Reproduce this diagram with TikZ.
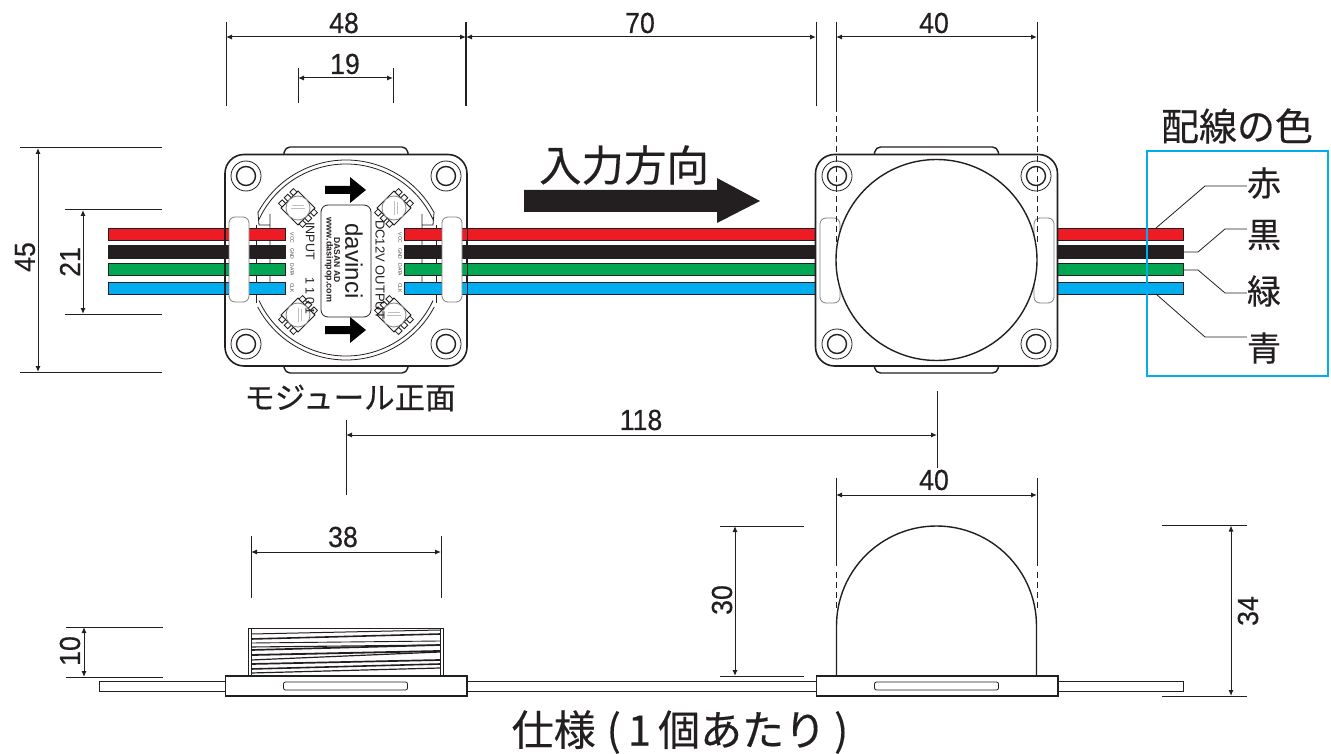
\documentclass[tikz,border=0pt]{standalone}
\usepackage{fontspec}
\setmainfont{Liberation Sans}
\newfontfamily\jpfont[FakeBold=0.35]{Noto Sans CJK JP}
\newfontfamily\dimfont[FakeBold=0.4,FakeStretch=0.92]{Liberation Sans}
\usetikzlibrary{arrows.meta}
\definecolor{wirered}{HTML}{ED1C24}
\definecolor{wireblack}{HTML}{231F20}
\definecolor{wiregreen}{HTML}{00A651}
\definecolor{wireblue}{HTML}{00AEEF}
\tikzset{
  bodyline/.style={draw=wireblack,line width=1.4pt,fill=white},
  thinline/.style={draw=wireblack,line width=0.8pt},
  extline/.style={draw=wireblack,line width=1pt},
  dimline/.style={draw=wireblack,line width=1pt,{Latex[length=6pt,width=5pt]}-{Latex[length=6pt,width=5pt]}},
  dimlabel/.style={font=\dimfont\fontsize{29}{29}\selectfont,text=wireblack,inner sep=0pt},
  jplabel/.style={font=\jpfont\fontsize{#1}{#1}\selectfont,text=wireblack,inner sep=0pt},
  pinlabel/.style={rotate=-90,inner sep=0pt,font=\fontsize{5}{5}\selectfont,text=darkgray},
  ledchip/.pic={
    \draw[thinline,fill=white] (-12,-12) rectangle (12,12);
    \foreach \px in {-8,0,8} {
      \draw[thinline,fill=white] (\px-2.5,-17) rectangle (\px+2.5,-12);
      \draw[thinline,fill=white] (\px-2.5,12) rectangle (\px+2.5,17);
    }
    \draw[draw=gray,line width=0.8pt,fill=white] (0,0) circle[radius=12];
    \draw[draw=lightgray,line width=0.5pt] (-5,-5) -- (5,5) (-2,-6) -- (6,2);
  },
}
\begin{document}
\begin{tikzpicture}[x=1pt,y=-1pt]
  \useasboundingbox (0,0) rectangle (1331,754);
  \def\holeA{246}
  \def\holeB{446}
  \def\holeC{837}
  \def\holeD{1036}
  % wires
  \foreach \ya/\yb/\wcol in {228/240/wirered,245/258/wireblack,263/275/wiregreen,282/294/wireblue}
    \draw[thinline,fill=\wcol] (108,\ya) rectangle (1183,\yb);
  % front modules
  \foreach \mx/\ma/\mb in {346/\holeA/\holeB,936.5/\holeC/\holeD} {
    \draw[bodyline,rounded corners=5pt] (\mx-63,160) -- (\mx-61,147) -- (\mx+61,147) -- (\mx+63,160) -- cycle;
    \draw[bodyline,rounded corners=5pt] (\mx-63,360) -- (\mx-61,373) -- (\mx+61,373) -- (\mx+63,360) -- cycle;
    \draw[bodyline,line width=1.6pt,rounded corners=19pt] (\mx-121,154.5) rectangle (\mx+121,366);
    \foreach \hx in {\ma,\mb}
      \foreach \hy in {176,344} {
        \draw[thinline] (\hx,\hy) circle[radius=15];
        \draw[bodyline] (\hx,\hy) circle[radius=9.5];
      }
  }
  % inner ring of the first module
  \begin{scope}[shift={(346,260)}]
    \draw[thinline] (208:100) arc[start angle=208,end angle=332,radius=100];
    \draw[thinline] (205:96) arc[start angle=205,end angle=335,radius=96];
    \draw[thinline] (152:100) arc[start angle=152,end angle=28,radius=100];
    \draw[thinline] (155:96) arc[start angle=155,end angle=25,radius=96];
  \end{scope}
  \draw[thinline] (258,213) -- (259,225) -- (270,225) -- (270,293) (270,225) -- (270,214);
  \draw[thinline] (434,213) -- (433,225) -- (422,225) -- (422,293) (422,225) -- (422,214);
  \draw[thinline] (256,225) -- (256,303);
  \draw[thinline] (436,225) -- (436,303);
  \foreach \ya/\yb/\wcol in {228/240/wirered,245/258/wireblack,263/275/wiregreen,282/294/wireblue} {
    \draw[thinline,fill=\wcol] (225,\ya) rectangle (285,\yb);
    \draw[thinline,fill=\wcol] (404,\ya) rectangle (467,\yb);
  }
  % slots
  \foreach \sx/\sy in {229/217,442/217,820/218,1034/218}
    \draw[thinline,draw=gray,fill=white,rounded corners=6pt] (\sx,\sy) rectangle (\sx+20,\sy+85);
  % leds and label
  \foreach \lx/\ly/\lr in {298/208/45,394/208/-45,298/315/-45,394/315/45}
    \pic[rotate=\lr] at (\lx,\ly) {ledchip};
  \node[rotate=-90,anchor=west,inner sep=0pt,font=\fontsize{12.5}{12.5}\selectfont,text=wireblack] (inlbl) at (310,222) {INPUT};
  \node[rotate=-90,anchor=west,inner sep=0pt,font=\fontsize{12.5}{12.5}\selectfont,text=wireblack] (numlbl) at (310,277) {1\hspace{3pt}1\hspace{3pt}0\hspace{3pt}1};
  \draw[thinline,rounded corners=7pt,fill=white] (321,205) rectangle (371,317);
  \node[rotate=-90,inner sep=0pt,font=\fontsize{24}{24}\selectfont,text=wireblack] (brand) at (354,261) {davinci};
  \node[rotate=-90,inner sep=0pt,font=\bfseries\fontsize{8.5}{8.5}\selectfont,text=wireblack] (maker) at (337,260) {DASAN AD};
  \node[rotate=-90,inner sep=0pt,font=\bfseries\fontsize{9}{9}\selectfont,text=wireblack] (site) at (329,260) {www.dasinpop.com};
  \node[rotate=-90,anchor=west,inner sep=0pt,font=\fontsize{13}{13}\selectfont,text=wireblack] (outlbl) at (380,220) {DC12V OUTPUT};
  \foreach \cx/\cn in {292/a,400/b} {
    \node[pinlabel] (vcc\cn) at (\cx,238) {VCC};
    \node[pinlabel] (gnd\cn) at (\cx,254) {GND};
    \node[pinlabel] (dat\cn) at (\cx,270) {DATA};
    \node[pinlabel] (clk\cn) at (\cx,288) {CLK};
  }
  \foreach \ay in {190,330}
    \fill[black] (325,\ay-4) -- (350,\ay-4) -- (350,\ay-13) -- (366,\ay) -- (350,\ay+13) -- (350,\ay+4) -- (325,\ay+4) -- cycle;
  % dashed lines and big circle
  \draw[thinline,dashed,dash pattern=on 6pt off 4pt] (836,106) -- (836,243) (1037,106) -- (1037,243);
  \draw[bodyline] (936.5,260) circle[radius=100.5];
  % big arrow
  \fill[wireblack] (524,190) -- (717,190) -- (717,178) -- (760,201) -- (717,223) -- (717,212) -- (524,212) -- cycle;
  \node[jplabel=42.5] (dirlbl) at (624,165) {入力方向};
  % colour box
  \draw[draw=wireblue,line width=2.6pt] (1147,151) rectangle (1328,376);
  \node[jplabel=38] (boxlbl) at (1237,126) {配線の色};
  \node[jplabel=34] (ccr) at (1264,183) {赤};
  \node[jplabel=34] (ccb) at (1264,235) {黒};
  \node[jplabel=34] (ccg) at (1264,291) {緑};
  \node[jplabel=34] (ccl) at (1264,348) {青};
  \coordinate (ldr) at (1156,228);
  \coordinate (ldb) at (1184,252);
  \coordinate (ldg) at (1184,270);
  \coordinate (ldl) at (1156,294);
  \draw[thinline] (ldr) -- (1205,186) -- (ccr.west |- 0,186);
  \draw[thinline] (ldb) -- (1198,252) -- (1225,229) -- (ccb.west |- 0,229);
  \draw[thinline] (ldg) -- (1198,270) -- (1225,293) -- (ccg.west |- 0,293);
  \draw[thinline] (ldl) -- (1205,337) -- (ccl.west |- 0,337);
  \node[jplabel=30.5] (frontlbl) at (350,398) {モジュール正面};
  % top dimensions
  \draw[extline] (226,22) -- (226,106);
  \draw[extline,line width=1.3pt] (466,22) -- (466,106);
  \draw[extline] (816,22) -- (816,106);
  \draw[extline] (836,22) -- (836,106);
  \draw[extline] (1037,22) -- (1037,106);
  \draw[extline] (298,68) -- (298,103);
  \draw[extline] (393,68) -- (393,103);
  \draw[dimline] (226,37) -- (466,37);
  \draw[dimline] (466,37) -- (816,37);
  \draw[dimline] (836,37) -- (1037,37);
  \draw[dimline] (298,78) -- (393,78);
  \node[dimlabel] (da) at (344,23) {48};
  \node[dimlabel] (db) at (640,23) {70};
  \node[dimlabel] (dc) at (934,23) {40};
  \node[dimlabel] (dd) at (345,64) {19};
  % left dimensions
  \draw[extline] (20,148) -- (162,148) (20,372) -- (162,372);
  \draw[extline] (65,210) -- (162,210) (65,314) -- (162,314);
  \draw[dimline] (38,148) -- (38,372);
  \draw[dimline] (83,210) -- (83,314);
  \node[dimlabel,rotate=90] (de) at (25,257) {45};
  \node[dimlabel,rotate=90] (df) at (70,262) {21};
  % middle dimension
  \draw[extline] (346,420) -- (346,495) (937,391) -- (937,468);
  \draw[dimline] (346,435) -- (937,435);
  \node[dimlabel] (dg) at (641,420) {118};
  % side view
  \draw[thinline,line width=1pt,fill=white] (99,681) rectangle (1183,691);
  \draw[bodyline] (836.5,676) -- (836.5,626) arc[start angle=180,end angle=360,radius=100] -- (1036.5,676);
  \draw[thinline,fill=white] (248,628) rectangle (443,676);
  \foreach \lya/\lyb/\lw in {634/630/1,639/634/1.6,643/641/0.9,647/645/1.1,650/645/1.7,655/651/1.8,660/652/1.2,664/660/1.7,669/664/1.6,673/668/1.2}
    \draw[draw=wireblack,line width=\lw pt] (251,\lya) -- (440,\lyb);
  \draw[bodyline,line width=1pt] (248,628) rectangle (251,676) (440,628) rectangle (443,676);
  \foreach \bx in {225.5,816.5} {
    \draw[bodyline,line width=1.2pt] (\bx,676) rectangle (\bx+241.5,696);
    \draw[thinline,rounded corners=2pt] (\bx+58,682) rectangle (\bx+182,690);
  }
  % side dimensions
  \draw[extline] (836,478) -- (836,566) (1037,478) -- (1037,566);
  \draw[thinline,dashed,dash pattern=on 6pt off 4pt] (836,572) -- (836,608) (1037,572) -- (1037,608);
  \draw[dimline] (836,495) -- (1037,495);
  \node[dimlabel] (dh) at (934,480) {40};
  \draw[extline] (251,536) -- (251,598) (441,536) -- (441,598);
  \draw[dimline] (251,552) -- (441,552);
  \node[dimlabel] (di) at (343,537) {38};
  \draw[extline] (720,526) -- (804,526) (720,676) -- (804,676);
  \draw[dimline] (735,526) -- (735,676);
  \node[dimlabel,rotate=90] (dj) at (722,600) {30};
  \draw[extline] (1162,525.5) -- (1247,525.5) (1162,696) -- (1247,696);
  \draw[dimline] (1231,525.5) -- (1231,696);
  \node[dimlabel,rotate=90] (dk) at (1248,611) {34};
  \draw[extline] (66,627) -- (163,627) (66,677) -- (163,677);
  \draw[dimline] (84,627) -- (84,677);
  \node[dimlabel,rotate=90] (dl) at (70,651) {10};
  \node[jplabel=42] (speclbl) at (680,732) {仕様\hspace{11pt}(\hspace{7pt}1\hspace{7pt}個あたり\hspace{8pt})};
\end{tikzpicture}
\end{document}
